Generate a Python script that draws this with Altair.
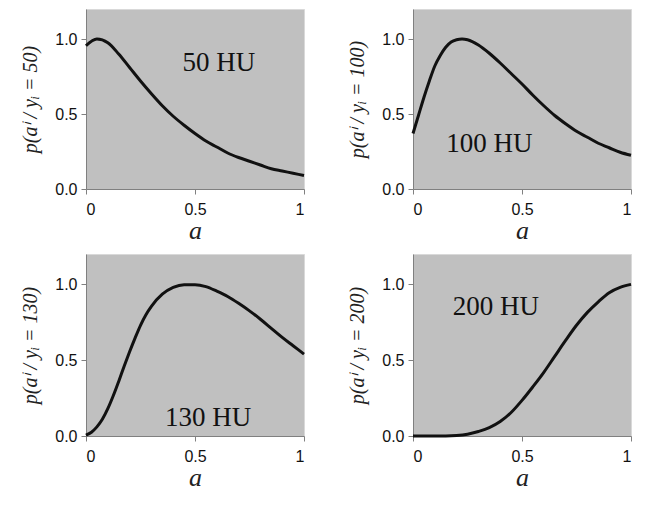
import altair as alt
import pandas as pd

# ---- data ----
a_50 = [0.0, 0.05, 0.10, 0.15, 0.20, 0.25, 0.30, 0.35, 0.40, 0.45, 0.50,
        0.55, 0.60, 0.65, 0.70, 0.75, 0.80, 0.85, 0.90, 0.95, 1.00]
p_50 = [0.955, 1.0, 0.975, 0.90, 0.81, 0.72, 0.635, 0.555, 0.485, 0.425, 0.37,
        0.32, 0.28, 0.24, 0.21, 0.185, 0.16, 0.135, 0.12, 0.105, 0.09]

a_100 = [0.0, 0.025, 0.05, 0.075, 0.10, 0.125, 0.15, 0.175, 0.20, 0.225, 0.25,
         0.30, 0.35, 0.40, 0.45, 0.50, 0.55, 0.60, 0.65, 0.70, 0.75, 0.80,
         0.85, 0.90, 0.95, 1.00]
p_100 = [0.37, 0.49, 0.61, 0.72, 0.82, 0.89, 0.945, 0.98, 0.995, 1.0, 0.995,
         0.96, 0.905, 0.84, 0.77, 0.70, 0.625, 0.555, 0.49, 0.435, 0.385, 0.345,
         0.305, 0.275, 0.245, 0.225]

a_130 = [0.0, 0.025, 0.05, 0.075, 0.10, 0.125, 0.15, 0.175, 0.20, 0.225, 0.25,
         0.275, 0.30, 0.35, 0.40, 0.45, 0.50, 0.55, 0.60, 0.65, 0.70, 0.75, 0.80,
         0.85, 0.90, 0.95, 1.00]
p_130 = [0.005, 0.025, 0.06, 0.11, 0.18, 0.265, 0.36, 0.46, 0.555, 0.645, 0.73,
         0.80, 0.855, 0.935, 0.98, 0.998, 0.998, 0.985, 0.955, 0.92, 0.875, 0.825, 0.77,
         0.71, 0.65, 0.595, 0.54]

a_200 = [0.0, 0.05, 0.10, 0.15, 0.20, 0.25, 0.30, 0.35, 0.40, 0.45, 0.50,
         0.55, 0.60, 0.65, 0.70, 0.75, 0.80, 0.85, 0.90, 0.95, 1.00]
p_200 = [0.0, 0.0, 0.0, 0.0, 0.003, 0.012, 0.03, 0.055, 0.095, 0.155, 0.235,
         0.325, 0.42, 0.525, 0.63, 0.73, 0.815, 0.885, 0.945, 0.98, 1.0]

panel_titles = ["p(aⁱ / yᵢ = 50)", "p(aⁱ / yᵢ = 100)", "p(aⁱ / yᵢ = 130)", "p(aⁱ / yᵢ = 200)"]
panel_labels = ["50 HU", "100 HU", "130 HU", "200 HU"]
label_a = [0.61, 0.35, 0.56, 0.38]
label_p = [0.84, 0.30, 0.12, 0.85]

x_ticks = [0, 0.5, 1]
y_ticks = [0, 0.5, 1.0]


def panel(a, p, ytitle, label, lx, ly, h):
    df = pd.DataFrame({"a": a, "p": p})
    x = alt.X("a:Q", scale=alt.Scale(domain=[0, 1], nice=False),
              axis=alt.Axis(values=x_ticks, format="~g", title="a",
                            titleFontSize=26, titlePadding=0, labelPadding=7))
    y = alt.Y("p:Q", scale=alt.Scale(domain=[0, 1.2], nice=False),
              axis=alt.Axis(values=y_ticks, format=".1f", title=ytitle,
                            titleFontSize=20, titlePadding=14, labelPadding=4))
    line = alt.Chart(df).mark_line(color="#111111", strokeWidth=3,
                                   interpolate="monotone").encode(x=x, y=y)
    ldf = pd.DataFrame({"a": [lx], "p": [ly], "t": [label]})
    txt = alt.Chart(ldf).mark_text(font="Liberation Serif", fontSize=27,
                                   color="#111111").encode(x="a:Q", y="p:Q", text="t:N")
    return alt.layer(line, txt).properties(width=218, height=h)


panels = [
    panel(a_50, p_50, panel_titles[0], panel_labels[0], label_a[0], label_p[0], 180),
    panel(a_100, p_100, panel_titles[1], panel_labels[1], label_a[1], label_p[1], 180),
    panel(a_130, p_130, panel_titles[2], panel_labels[2], label_a[2], label_p[2], 182),
    panel(a_200, p_200, panel_titles[3], panel_labels[3], label_a[3], label_p[3], 182),
]

top = alt.hconcat(panels[0], panels[1], spacing=36)
bottom = alt.hconcat(panels[2], panels[3], spacing=36)

chart = alt.vconcat(top, bottom, spacing=9).properties(
    padding={"left": 12, "top": 0, "right": 0, "bottom": 0},
    background="white",
).configure_view(
    fill="#c0c0c0", stroke="#d9d9d9"
).configure_axis(
    grid=False, domainColor="#808080", tickColor="#808080", tickSize=5,
    labelFont="Liberation Sans", labelFontSize=16, labelColor="#111111",
    titleFont="Liberation Serif", titleFontStyle="italic",
    titleFontWeight="normal", titleColor="#222222",
)

chart.save("out.html", embed_options={"renderer": "svg", "actions": False})
